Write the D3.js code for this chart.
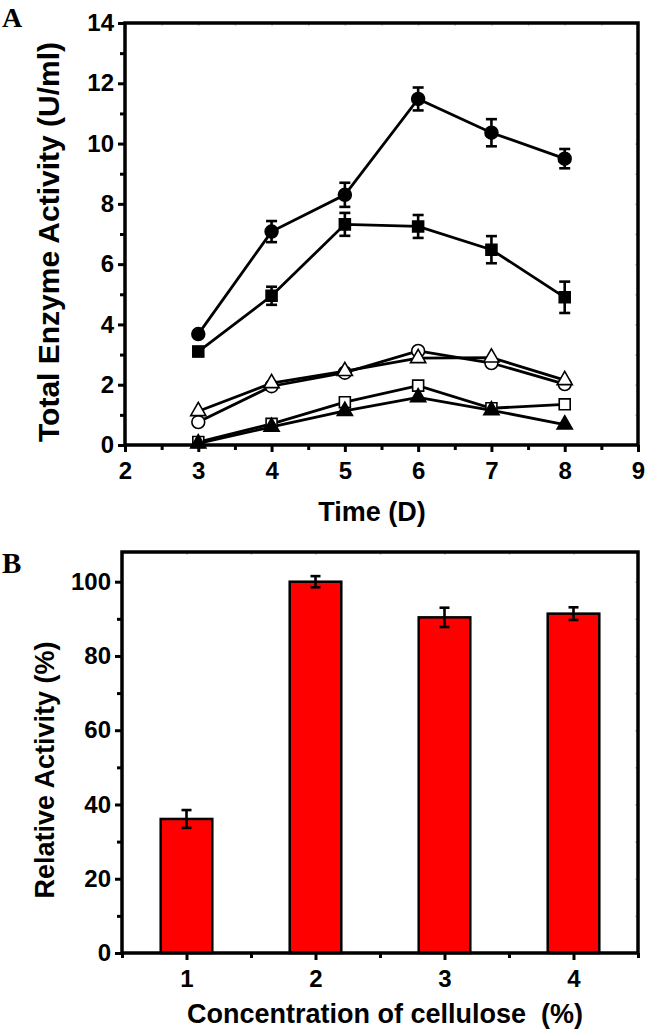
<!DOCTYPE html>
<meta charset="utf-8">
<style>
    body { margin: 0; background: #fff; }
    text { font-family: "Liberation Sans", Arial, sans-serif; font-weight: bold; fill: #000; }
    .panel { font-family: "Liberation Serif", "Times New Roman", serif; }
    .frame { fill: none; stroke: #000; stroke-width: 3.5px; }
    .line { fill: none; stroke: #000; stroke-width: 2.8px; }
    .err { stroke: #000; stroke-width: 2.6px; }
</style>
<svg width="646" height="1035"></svg>
<script src="https://d3js.org/d3.v7.min.js"></script>
<script>

    // panel A : time course (days)
    var days = [3, 4, 5, 6, 7, 8];
    var filledCircle = [3.68, 7.08, 8.3, 11.48, 10.36, 9.5];
    var filledCircleErr = [0.08, 0.35, 0.4, 0.38, 0.45, 0.32];
    var filledSquare = [3.1, 4.95, 7.32, 7.25, 6.48, 4.9];
    var filledSquareErr = [0.15, 0.3, 0.38, 0.38, 0.45, 0.52];
    var openCircle = [0.76, 1.95, 2.4, 3.12, 2.72, 2.02];
    var openTriangle = [1.12, 2.05, 2.45, 2.88, 2.9, 2.15];
    var openSquare = [0.1, 0.7, 1.42, 1.97, 1.22, 1.35];
    var filledTriangle = [0.05, 0.6, 1.13, 1.58, 1.15, 0.68];

    // panel B : relative activity
    var concentrations = [1, 2, 3, 4];
    var relActivity = [36.1, 100, 90.4, 91.4];
    var relActivityErr = [2.4, 1.5, 2.6, 1.7];

    var timeTicks = [2, 3, 4, 5, 6, 7, 8, 9];
    var enzymeTicks = [0, 2, 4, 6, 8, 10, 12, 14];
    var relTicks = [0, 20, 40, 60, 80, 100];

    var svg = d3.select("svg");

    // ---------------- panel A
    var xA = d3.scaleLinear().domain([2, 9]).range([125, 638]);
    var yA = d3.scaleLinear().domain([0, 14]).range([445, 23]);

    var series = [
        { vals: openSquare, shape: "square", fill: "#fff" },
        { vals: filledTriangle, shape: "triangle", fill: "#000" },
        { vals: openCircle, shape: "circle", fill: "#fff" },
        { vals: openTriangle, shape: "triangle", fill: "#fff" },
        { vals: filledSquare, shape: "square", fill: "#000", err: filledSquareErr },
        { vals: filledCircle, shape: "circle", fill: "#000", err: filledCircleErr }
    ];

    function drawAxes(g, x, y, xMajor, xMinor, yMajor, yMinor) {
        var x0 = x.range()[0], x1 = x.range()[1], y0 = y.range()[0], y1 = y.range()[1];
        // faint ticks on top / right
        g.append("g").attr("transform", "translate(0," + y1 + ")")
            .call(d3.axisBottom(x).tickValues(xMinor.concat(xMajor)).tickSize(3).tickFormat(""))
            .call(a => a.select(".domain").remove())
            .selectAll("line").attr("stroke", "#ccc").attr("stroke-width", 1.5);
        g.append("g").attr("transform", "translate(" + x1 + ",0)")
            .call(d3.axisLeft(y).tickValues(yMinor.concat(yMajor)).tickSize(3).tickFormat(""))
            .call(a => a.select(".domain").remove())
            .selectAll("line").attr("stroke", "#ccc").attr("stroke-width", 1.5);

        var gx = g.append("g").attr("transform", "translate(0," + y0 + ")");
        gx.append("g").call(d3.axisBottom(x).tickValues(xMinor).tickSize(5).tickFormat(""))
            .call(a => a.select(".domain").remove())
            .selectAll("line").attr("stroke-width", 3);
        var ax = gx.append("g").call(d3.axisBottom(x).tickValues(xMajor).tickSize(7).tickPadding(10).tickFormat(d3.format("d")));
        ax.select(".domain").remove();
        ax.selectAll("line").attr("stroke-width", 3);
        ax.selectAll("text").attr("font-size", 24).attr("font-family", "Liberation Sans").attr("font-weight", "bold");

        var gy = g.append("g").attr("transform", "translate(" + x0 + ",0)");
        gy.append("g").call(d3.axisLeft(y).tickValues(yMinor).tickSize(5).tickFormat(""))
            .call(a => a.select(".domain").remove())
            .selectAll("line").attr("stroke-width", 3);
        var ay = gy.append("g").call(d3.axisLeft(y).tickValues(yMajor).tickSize(7).tickPadding(4).tickFormat(d3.format("d")));
        ay.select(".domain").remove();
        ay.selectAll("line").attr("stroke-width", 3);
        ay.selectAll("text").attr("font-size", 24).attr("font-family", "Liberation Sans").attr("font-weight", "bold");

        g.append("rect").attr("class", "frame")
            .attr("x", x0).attr("y", y1).attr("width", x1 - x0).attr("height", y0 - y1);
    }

    var gA = svg.append("g");

    var line = d3.line().x((d, i) => xA(days[i])).y(d => yA(d));
    series.forEach(function (s) {
        gA.append("path").attr("class", "line").attr("d", line(s.vals));
    });

    series.forEach(function (s) {
        if (s.err) {
            var eg = gA.append("g");
            s.vals.forEach(function (v, i) {
                var cx = xA(days[i]), lo = yA(v - s.err[i]), hi = yA(v + s.err[i]);
                eg.append("line").attr("class", "err").attr("x1", cx).attr("x2", cx).attr("y1", lo).attr("y2", hi);
                eg.append("line").attr("class", "err").attr("x1", cx - 5.5).attr("x2", cx + 5.5).attr("y1", lo).attr("y2", lo);
                eg.append("line").attr("class", "err").attr("x1", cx - 5.5).attr("x2", cx + 5.5).attr("y1", hi).attr("y2", hi);
            });
        }
        var sym = s.shape == "circle" ? d3.symbolCircle : s.shape == "square" ? d3.symbolSquare : d3.symbolTriangle;
        var size = s.shape == "circle" ? 130 : s.shape == "square" ? 120 : 100;
        gA.append("g").selectAll("path")
            .data(s.vals)
            .enter().append("path")
            .attr("transform", (d, i) => "translate(" + xA(days[i]) + "," + yA(d) + ")")
            .attr("d", d3.symbol().type(sym).size(size))
            .attr("fill", s.fill)
            .attr("stroke", "#000")
            .attr("stroke-width", 1.6);
    });

    drawAxes(gA, xA, yA, timeTicks, [2.5, 3.5, 4.5, 5.5, 6.5, 7.5, 8.5],
        enzymeTicks, [1, 3, 5, 7, 9, 11, 13]);

    gA.append("text").attr("x", 372).attr("y", 521).attr("text-anchor", "middle")
        .style("font-size", "27px").text("Time (D)");
    gA.append("text").attr("transform", "translate(59,242) rotate(-90)").attr("text-anchor", "middle")
        .style("font-size", "30px").text("Total Enzyme Activity (U/ml)");
    gA.append("text").attr("class", "panel").attr("x", 2).attr("y", 27)
        .style("font-size", "28px").text("A");

    // ---------------- panel B
    var xB = d3.scaleLinear().domain([0.5, 4.5]).range([122, 638]);
    var yB = d3.scaleLinear().domain([0, 108]).range([953, 552]);
    var gB = svg.append("g");
    var bw = 0.4;

    gB.selectAll(".bar")
        .data(relActivity)
        .enter().append("rect")
        .attr("class", "bar")
        .attr("x", (d, i) => xB(concentrations[i] - bw / 2))
        .attr("width", xB(bw) - xB(0))
        .attr("y", d => yB(d))
        .attr("height", d => yB(0) - yB(d))
        .attr("fill", "#ff0000")
        .attr("stroke", "#000")
        .attr("stroke-width", 2.5);

    relActivity.forEach(function (v, i) {
        var cx = xB(concentrations[i]), lo = yB(v - relActivityErr[i]), hi = yB(v + relActivityErr[i]);
        gB.append("line").attr("class", "err").attr("x1", cx).attr("x2", cx).attr("y1", lo).attr("y2", hi);
        gB.append("line").attr("class", "err").attr("x1", cx - 5).attr("x2", cx + 5).attr("y1", lo).attr("y2", lo);
        gB.append("line").attr("class", "err").attr("x1", cx - 5).attr("x2", cx + 5).attr("y1", hi).attr("y2", hi);
    });

    drawAxes(gB, xB, yB, concentrations, [0.5, 1.5, 2.5, 3.5, 4.5],
        relTicks, [10, 30, 50, 70, 90]);

    gB.append("text").attr("x", 385).attr("y", 1023).attr("text-anchor", "middle")
        .style("font-size", "27px").style("white-space", "pre").text("Concentration of cellulose  (%)");
    gB.append("text").attr("transform", "translate(54,770) rotate(-90)").attr("text-anchor", "middle")
        .style("font-size", "27px").text("Relative Activity (%)");
    gB.append("text").attr("class", "panel").attr("x", 2).attr("y", 573)
        .style("font-size", "29px").text("B");

</script>
